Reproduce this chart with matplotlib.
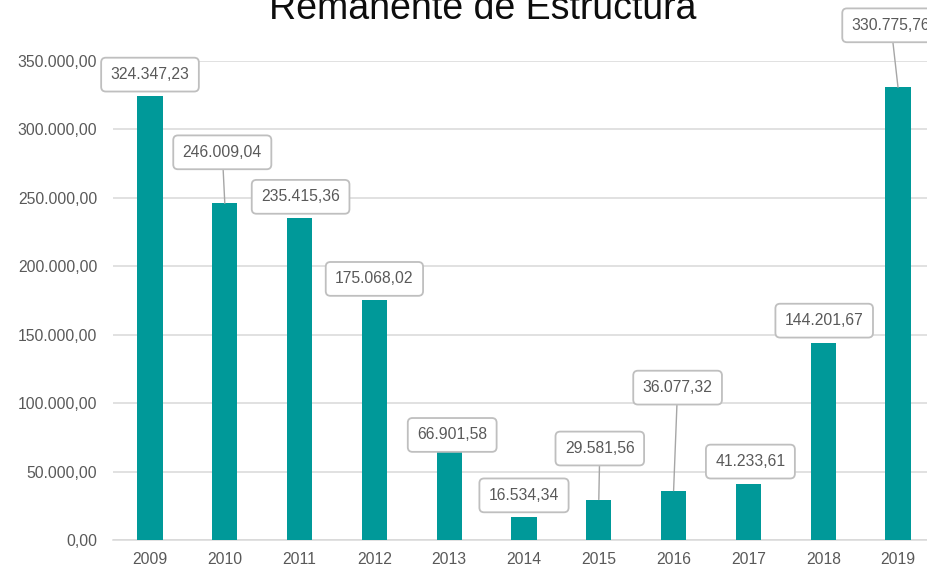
import numpy as np
import matplotlib.pyplot as plt
from matplotlib.ticker import FuncFormatter, MultipleLocator

# Data
years = ['2009', '2010', '2011', '2012', '2013', '2014',
         '2015', '2016', '2017', '2018', '2019']
values = [324347.23, 246009.04, 235415.36, 175068.02, 66901.58, 16534.34,
          29581.56, 36077.32, 41233.61, 144201.67, 330775.76]
title = 'Remanente de Estructura'

# label box offsets from bar top, in pixels (dx, dy)
label_offsets = [(0, 21.5), (-2.5, 51), (1, 21), (0, 21.5), (3, 13.5), (0, 22),
                 (1, 51), (4, 103), (2, 22), (1, 22), (-7, 62)]

plt.rcParams['font.family'] = ['Liberation Sans', 'DejaVu Sans']

def es_fmt(v, pos=None):
    s = f'{v:,.2f}'
    return s.replace(',', '#').replace('.', ',').replace('#', '.')

fig = plt.figure(figsize=(9.28, 5.66), dpi=100)
W, H = 928, 566
x0, x1 = 112.6, 935.4
y0, y1 = 540, 61
ax = fig.add_axes([x0 / W, (H - y0) / H, (x1 - x0) / W, (y0 - y1) / H])

x = np.arange(len(years))
ax.bar(x, values, width=0.335, color='#009999', zorder=3)

ax.set_xlim(-0.5, len(years) - 0.5)
ax.set_ylim(0, 350000)
ax.yaxis.set_major_locator(MultipleLocator(50000))
ax.yaxis.set_major_formatter(FuncFormatter(es_fmt))
ax.set_xticks(x)
ax.set_xticklabels(years)

ax.grid(axis='y', color='#d9d9d9', lw=1.1, zorder=0)
for sp in ['top', 'right', 'left']:
    ax.spines[sp].set_visible(False)
ax.spines['bottom'].set_color('#d9d9d9')
ax.spines['bottom'].set_linewidth(1.1)
ax.tick_params(axis='both', length=0, labelsize=11.3, labelcolor='#595959')
ax.tick_params(axis='y', pad=11)
ax.tick_params(axis='x', pad=8.5)

for xi, v, (dx, dy) in zip(x, values, label_offsets):
    # leader line only where the label sits well above its bar
    arrow = None
    if dy > 40:
        arrow = dict(arrowstyle='-', color='#a6a6a6', lw=1,
                     shrinkA=0, shrinkB=0)
    ax.annotate(es_fmt(v), xy=(xi, v), xytext=(dx, dy),
                textcoords='offset pixels', ha='center', va='center',
                fontsize=11.3, color='#595959', annotation_clip=False,
                bbox=dict(boxstyle='round,pad=0.6,rounding_size=0.3',
                          fc='white', ec='#bfbfbf', lw=1.3),
                arrowprops=arrow, zorder=5)

fig.text(483 / W, (H - 19) / H, title, ha='center', va='baseline',
         fontsize=27, color='#0d0d0d')

fig.savefig('out.png', dpi=100)
